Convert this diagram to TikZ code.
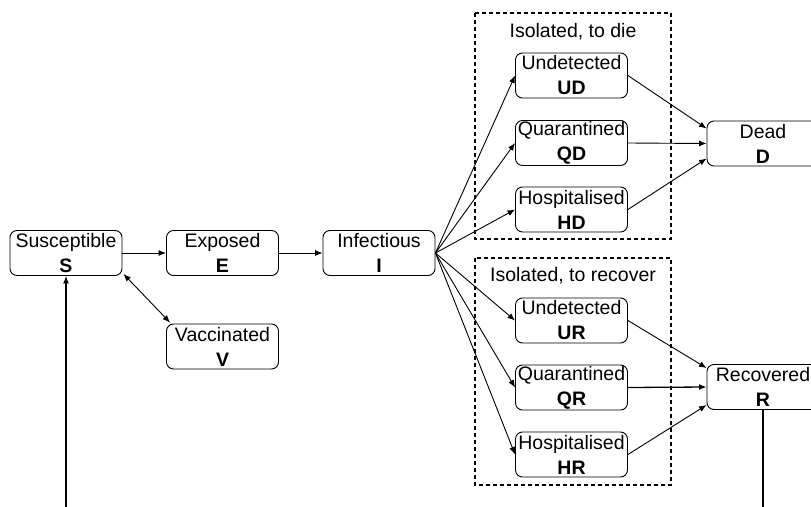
\documentclass[tikz,border=0pt]{standalone}
\usepackage{fontspec}
\setmainfont{Liberation Sans}
\usetikzlibrary{arrows.meta,calc}
\begin{document}
\begin{tikzpicture}[x=1pt,y=-1pt,
  comp/.style={draw, line width=0.9pt, rounded corners=7pt, minimum width=112pt, minimum height=45pt,
    inner sep=0pt, align=center, font=\fontsize{19.5}{25}\selectfont},
  grp/.style={draw, line width=1.2pt, dash pattern=on 4pt off 3pt},
  grplabel/.style={inner sep=0pt, font=\fontsize{19.5}{25}\selectfont},
  flow/.style={draw, line width=0.9pt, -{Latex[length=7.5pt,width=6pt]}},
  bflow/.style={draw, line width=0.9pt, {Latex[length=7.5pt,width=6pt]}-{Latex[length=7.5pt,width=6pt]}}]
\useasboundingbox (0,0) rectangle (811,506);
\clip (0,0) rectangle (811,506);
\fill[white] (0,0) rectangle (811,506);
% groups
\draw[grp] (475,13) rectangle (671,239);
\draw[grp] (475,258) rectangle (671,485);
\node[grplabel] (ldie) at (573,32) {Isolated, to die};
\node[grplabel] (lrec) at (573,276) {Isolated, to recover};
% compartments
\node[comp] (S) at (66,253) {Susceptible\\\textbf{S}};
\node[comp] (E) at (222.5,253) {Exposed\\\textbf{E}};
\node[comp] (I) at (379,253) {Infectious\\\textbf{I}};
\node[comp] (V) at (222.5,346.5) {Vaccinated\\\textbf{V}};
\node[comp] (UD) at (571.5,75.5) {Undetected\\\textbf{UD}};
\node[comp] (QD) at (571.5,143) {Quarantined\\\textbf{QD}};
\node[comp] (HD) at (571.5,209.5) {Hospitalised\\\textbf{HD}};
\node[comp] (UR) at (571.5,320.5) {Undetected\\\textbf{UR}};
\node[comp] (QR) at (571.5,387.5) {Quarantined\\\textbf{QR}};
\node[comp] (HR) at (571.5,454.5) {Hospitalised\\\textbf{HR}};
\node[comp] (D) at (763,143.5) {Dead\\\textbf{D}};
\node[comp] (R) at (763,387) {Recovered\\\textbf{R}};
\coordinate (loopR) at (R.south |- 0,540);
\coordinate (loopS) at (S.south |- 0,540);
% connectors
\draw[flow] (S.east) -- (E.west);
\draw[flow] (E.east) -- (I.west);
\draw[bflow] ($(S.south east)+(1,-2)$) -- ($(V.north west)+(4,-1)$);
\foreach \t in {UD,QD,HD,UR,QR,HR} \draw[flow] (I.east) -- (\t.west);
\draw[flow] (UD.east) -- ([yshift=15pt]D.west);
\draw[flow] (QD.east) -- (D.west);
\draw[flow] (HD.east) -- ([yshift=-15pt]D.west);
\draw[flow] (UR.east) -- ([yshift=19pt]R.west);
\draw[flow, line width=1.3pt] (QR.east) -- (R.west);
\draw[flow] (HR.east) -- ([yshift=-18pt]R.west);
\draw[flow, line width=1.2pt] (R.south) -- (loopR) -- (loopS) -- (S.south);
\end{tikzpicture}
\end{document}
